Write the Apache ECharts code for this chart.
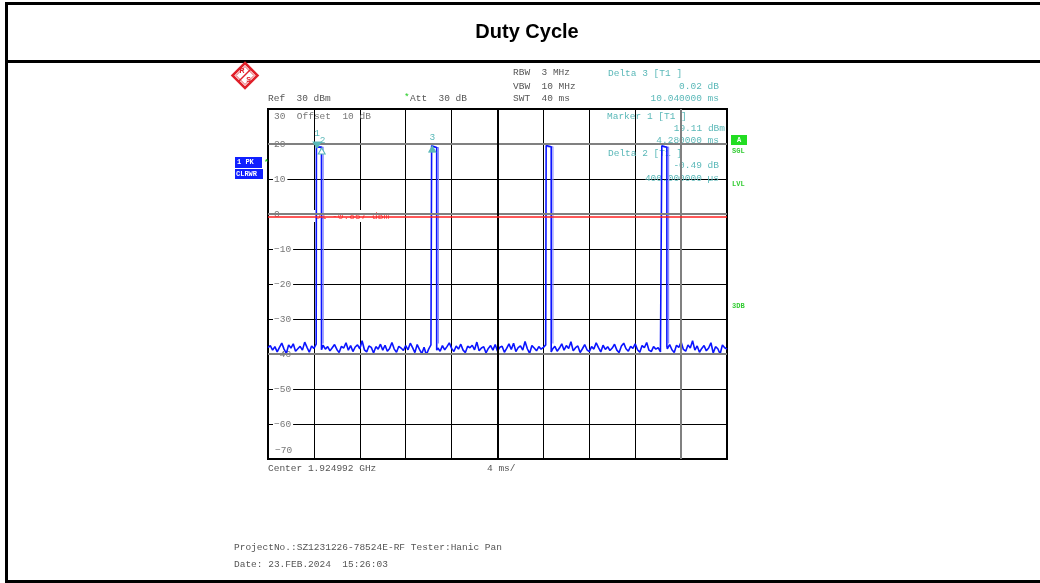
<!DOCTYPE html>
<html>
<head>
<meta charset="utf-8">
<script src="https://cdn.jsdelivr.net/npm/echarts@6/dist/echarts.min.js"></script>
<style>html,body{margin:0;padding:0;background:#fff;}#c{width:1040px;height:583px;}</style>
</head>
<body>
<div id="c"></div>
<script>
// ---- data ----
var sampleStepMs = 0.2;
var noiseDbm = [
-38.2,-37.6,-38.9,-37.9,-39.4,-38.1,-36.9,-38.6,-39.8,-37.4,
-38.3,-37.1,-39.2,-38.5,-37.8,-38.9,-36.6,-38.1,-39.5,-37.7,
-38.4,-37.2,-38.8,-39.9,-37.5,-38.6,-37.9,-39.1,-38.2,-37.3,
-38.7,-39.6,-37.8,-38.3,-36.8,-38.9,-37.6,-39.3,-38.0,-37.4,
-38.5,-36.2,-38.8,-39.4,-37.7,-38.1,-39.7,-37.9,-38.6,-37.2,
-38.9,-37.5,-39.2,-38.4,-36.7,-38.6,-39.5,-37.8,-38.3,-39.0,
-37.6,-38.8,-36.9,-38.2,-39.6,-37.3,-38.7,-39.9,-38.1,-40.2,
-38.6,-37.4,-38.9,-37.1,-38.3,-39.2,-37.6,-38.8,-37.9,-36.8,
-38.4,-39.3,-37.7,-38.6,-37.2,-38.9,-39.6,-37.8,-38.2,-37.5,
-38.8,-36.6,-39.1,-38.3,-37.9,-39.7,-38.4,-37.6,-38.9,-37.3,
-39.2,-38.1,-37.8,-39.5,-38.4,-37.1,-38.7,-36.9,-39.3,-38.2,
-37.7,-38.9,-36.4,-38.5,-39.8,-37.6,-38.3,-39.1,-37.9,-38.6,
-38.1,-37.4,-39.4,-40.3,-38.6,-37.8,-39.2,-38.3,-37.1,-38.9,
-37.6,-38.4,-36.5,-39.1,-38.2,-37.7,-39.6,-38.5,-37.3,-38.8,
-39.3,-37.9,-38.6,-36.8,-38.2,-39.4,-37.5,-38.7,-37.9,-39.0,
-38.3,-37.2,-38.9,-39.6,-37.7,-36.9,-38.5,-39.2,-37.8,-38.4,
-37.1,-38.8,-39.5,-37.6,-38.2,-36.7,-38.9,-39.3,-37.9,-38.6,
-38.2,-39.4,-37.8,-40.1,-38.5,-37.3,-38.8,-39.6,-37.5,-38.1,
-36.6,-38.7,-39.2,-37.4,-38.3,-36.2,-38.9,-37.7,-39.5,-38.4,
-37.6,-39.1,-38.3,-36.8,-39.7,-37.9,-38.5,-40.0,-37.4,-38.2,
-38.6
];
var pulseStartMs = [4.22, 14.26, 24.24, 34.32];
var pulseEndMs   = [4.66, 14.70, 24.68, 34.76];
var pulsePeakDbm = [19.9, 19.5, 19.6, 19.5];
var pulseTopDbm  = [19.1, 19.0, 19.2, 19.1];
var markers = [
  {name: '1', t: 4.28, v: 19.11, kind: 'main'},
  {name: '2', t: 4.68, v: 18.62, kind: 'delta'},
  {name: '3', t: 14.32, v: 19.13, kind: 'delta3'}
];
var displayLineDbm = -0.857;
var yTicks = [-70, -60, -50, -40, -30, -20, -10, 0, 10, 20, 30];

// ---- build trace ----
var trace = [];
var p = 0;
for (var i = 0; i < noiseDbm.length; i++) {
  var t = +(i * sampleStepMs).toFixed(3);
  while (p < pulseStartMs.length && t > pulseStartMs[p]) {
    trace.push([pulseStartMs[p], noiseDbm[i - 1]]);
    trace.push([pulseStartMs[p], pulsePeakDbm[p]]);
    trace.push([pulseStartMs[p] + 0.08, pulsePeakDbm[p]]);
    trace.push([pulseStartMs[p] + 0.1, pulseTopDbm[p]]);
    trace.push([pulseEndMs[p], pulseTopDbm[p]]);
    trace.push([pulseEndMs[p], noiseDbm[i]]);
    p++;
  }
  var inPulse = false;
  for (var k = 0; k < pulseStartMs.length; k++) {
    if (t >= pulseStartMs[k] && t <= pulseEndMs[k]) inPulse = true;
  }
  if (!inPulse) trace.push([t, noiseDbm[i]]);
}
var light = [];
for (var k = 0; k < pulseStartMs.length; k++) {
  light.push([pulseStartMs[k] + 0.12, pulseTopDbm[k]]);
  light.push([pulseEndMs[k] + 0.15, pulseTopDbm[k]]);
  light.push([pulseEndMs[k] + 0.15, -37]);
  light.push([NaN, NaN]);
}

var teal = '#5ab8b8';
var mono = 'Liberation Mono';
var gray = '#555';
function txt(x, y, s, color, align, extra) {
  var st = {text: s, x: x, y: y, fill: color || gray, font: '9.5px "Liberation Mono"', align: align || 'left', verticalAlign: 'middle'};
  if (extra) for (var k in extra) st[k] = extra[k];
  return {type: 'text', z: 1, style: st};
}

var markPts = markers.map(function (m) {
  var rot = m.kind === 'main' ? 180 : 0;
  return {
    coord: [m.t, m.v + (m.kind === 'main' ? 0.6 : -0.6)],
    symbol: 'triangle', symbolRotate: rot, symbolSize: m.kind === 'main' ? [8, 6] : [7, 6],
    itemStyle: {color: m.kind === 'delta' ? '#fff' : teal, borderColor: teal, borderWidth: 1},
    label: {show: true, formatter: m.name, position: 'top', distance: m.kind === 'delta' ? 2 : 3, color: teal, fontFamily: mono, fontSize: 9.5, offset: m.kind === 'delta' ? [1, 0] : [0, 0]}
  };
});

var chart = echarts.init(document.getElementById('c'), null, {renderer: 'canvas'});
chart.setOption({
  animation: false,
  backgroundColor: '#fff',
  grid: {left: 268, top: 109, width: 459, height: 350, show: true, borderColor: '#000', borderWidth: 2, backgroundColor: 'transparent'},
  xAxis: {
    type: 'value', min: 0, max: 40, interval: 4,
    axisLine: {show: false}, axisTick: {show: false}, axisLabel: {show: false},
    splitLine: {show: true, lineStyle: {color: '#000', width: 1}}
  },
  yAxis: {
    type: 'value', min: -70, max: 30, interval: 10,
    axisLine: {show: false}, axisTick: {show: false},
    axisLabel: {show: true, inside: true, margin: 5, color: '#777', fontFamily: mono, fontSize: 9.5,
      backgroundColor: '#fff', padding: [0, 2, 0, 1], showMinLabel: false, showMaxLabel: false,
      formatter: function (v) { return yTicks.indexOf(v) >= 0 ? String(v).replace('-', '\u2212') : ''; }},
    splitLine: {show: true, lineStyle: {color: '#000', width: 1}}
  },
  series: [
    {
      type: 'line', data: [], silent: true, z: 1,
      markLine: {
        silent: true, symbol: 'none', label: {show: false},
        data: [
          {yAxis: 20, lineStyle: {color: '#808080', width: 2, type: 'solid'}},
          {yAxis: 0, lineStyle: {color: '#808080', width: 2, type: 'solid'}},
          {yAxis: -40, lineStyle: {color: '#808080', width: 2, type: 'solid'}},
          {xAxis: 20, lineStyle: {color: '#000', width: 2, type: 'solid'}},
          {xAxis: 36, lineStyle: {color: '#808080', width: 2, type: 'solid'}}
        ]
      }
    },
    {
      type: 'line', data: [], silent: true, z: 2,
      markLine: {
        silent: true, symbol: 'none', label: {show: false},
        data: [{yAxis: displayLineDbm, lineStyle: {color: '#ff2020', width: 1.5, type: 'solid'}}]
      }
    },
    {
      type: 'line', data: light, showSymbol: false, z: 3, connectNulls: false,
      lineStyle: {color: '#8c8cff', width: 1.2}
    },
    {
      type: 'line', data: trace, showSymbol: false, z: 4,
      lineStyle: {color: '#0a14ff', width: 1.6},
      markPoint: {data: markPts, z: 6}
    }
  ],
  graphic: [
    // frame
    {type: 'line', shape: {x1: 6.5, y1: 2, x2: 6.5, y2: 583}, style: {stroke: '#000', lineWidth: 3}},
    {type: 'line', shape: {x1: 5, y1: 3.5, x2: 1040, y2: 3.5}, style: {stroke: '#000', lineWidth: 3}},
    {type: 'line', shape: {x1: 5, y1: 61.5, x2: 1040, y2: 61.5}, style: {stroke: '#000', lineWidth: 3}},
    {type: 'line', shape: {x1: 5, y1: 581.5, x2: 1040, y2: 581.5}, style: {stroke: '#000', lineWidth: 3}},
    {type: 'text', style: {text: 'Duty Cycle', x: 527, y: 32, font: 'bold 20px "Liberation Sans"', fill: '#000', align: 'center', verticalAlign: 'middle'}},
    // R&S logo
    {type: 'polygon', shape: {points: [[245, 63], [257.5, 75.5], [245, 88], [232.5, 75.5]]}, style: {fill: '#fff', stroke: '#e0202a', lineWidth: 2.5}},
    {type: 'polygon', shape: {points: [[245, 66.5], [254, 75.5], [245, 84.5], [236, 75.5]]}, style: {fill: 'none', stroke: '#e0202a', lineWidth: 0.8}},
    {type: 'line', shape: {x1: 239, y1: 81, x2: 251, y2: 69}, style: {stroke: '#e0202a', lineWidth: 1.5}},
    {type: 'text', style: {text: 'R', x: 242, y: 71.5, fill: '#e0202a', font: 'bold 7px "Liberation Sans"', align: 'center', verticalAlign: 'middle'}},
    {type: 'text', style: {text: 'S', x: 248.5, y: 80, fill: '#e0202a', font: 'bold 7px "Liberation Sans"', align: 'center', verticalAlign: 'middle'}},
    // header text
    txt(268, 98, 'Ref  30 dBm'),
    txt(404, 97, '*', '#22cc22'),
    txt(410, 98, 'Att  30 dB'),
    txt(513, 72, 'RBW  3 MHz'),
    txt(513, 86, 'VBW  10 MHz'),
    txt(513, 98, 'SWT  40 ms'),
    txt(608, 73, 'Delta 3 [T1 ]', teal),
    txt(719, 86, '0.02 dB', teal, 'right'),
    txt(719, 98, '10.040000 ms', teal, 'right'),
    txt(607, 116, 'Marker 1 [T1 ]', teal),
    txt(725, 128, '19.11 dBm', teal, 'right'),
    txt(719, 140, '4.280000 ms', teal, 'right'),
    txt(608, 153, 'Delta 2 [T1 ]', teal),
    txt(719, 165, '-0.49 dB', teal, 'right'),
    txt(719, 178, '400.000000 \u00b5s', teal, 'right'),
    txt(274, 116, '30  Offset  10 dB', '#777'),
    txt(275, 450, '\u221270', '#777'),
    // display line label
    txt(312, 216, 'D1 -0.857 dBm', '#ff5050', 'left', {backgroundColor: '#fff', padding: [1, 3]}),
    // side badges
    {type: 'rect', shape: {x: 731, y: 135, width: 16, height: 10}, style: {fill: '#22dd22'}},
    txt(739, 140.5, 'A', '#fff', 'center', {font: 'bold 7px "Liberation Mono"'}),
    txt(732, 151, 'SGL', '#33cc33', 'left', {font: 'bold 7px "Liberation Mono"'}),
    txt(732, 184, 'LVL', '#33cc33', 'left', {font: 'bold 7px "Liberation Mono"'}),
    txt(732, 306, '3DB', '#33cc33', 'left', {font: 'bold 7px "Liberation Mono"'}),
    {type: 'rect', shape: {x: 235, y: 157, width: 27, height: 11}, style: {fill: '#1020ff'}},
    txt(237, 162.5, '1 PK', '#fff', 'left', {font: 'bold 7px "Liberation Mono"'}),
    txt(264, 162, '*', '#22cc22', 'left', {font: 'bold 8px "Liberation Mono"'}),
    {type: 'rect', shape: {x: 235, y: 169, width: 28, height: 10}, style: {fill: '#1020ff'}},
    txt(236, 174, 'CLRWR', '#fff', 'left', {font: 'bold 7px "Liberation Mono"'}),
    // footer text
    txt(268, 468, 'Center 1.924992 GHz'),
    txt(487, 468, '4 ms/'),
    txt(234, 547, 'ProjectNo.:SZ1231226-78524E-RF Tester:Hanic Pan'),
    txt(234, 564, 'Date: 23.FEB.2024  15:26:03')
  ]
});
</script>
</body>
</html>
